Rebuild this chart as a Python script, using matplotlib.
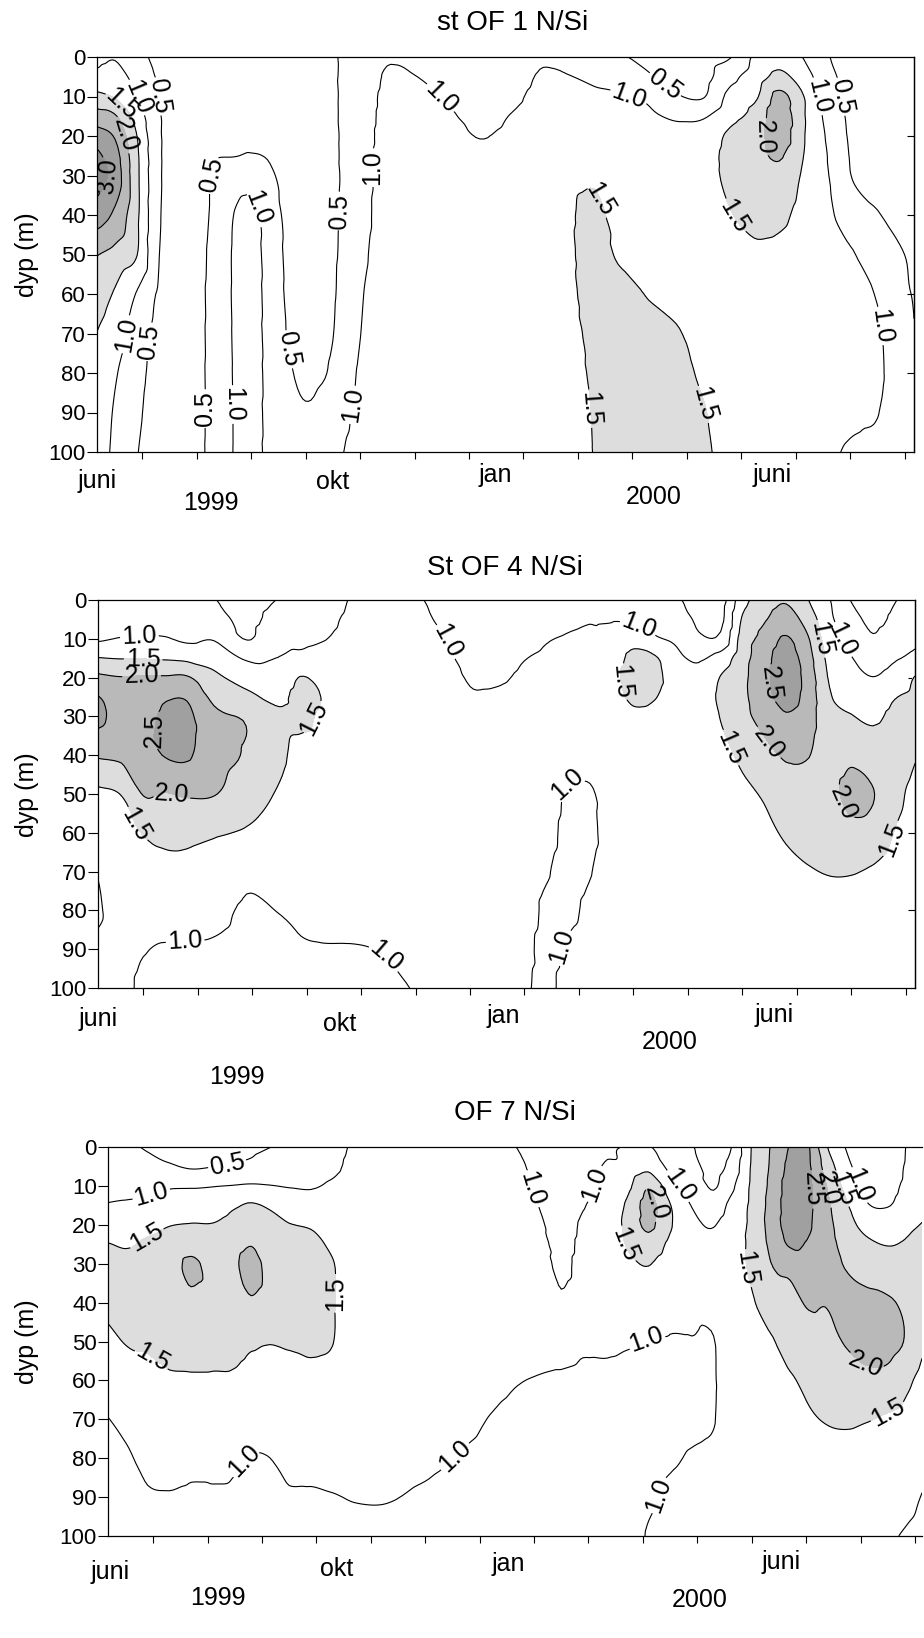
import numpy as np
import matplotlib
matplotlib.use("Agg")
import matplotlib.pyplot as plt
from matplotlib.tri import Triangulation, UniformTriRefiner, CubicTriInterpolator

plt.rcParams["font.family"] = ["Liberation Sans", "DejaVu Sans"]

# sample depths (m), shared by all stations
depths = [0, 5, 10, 15, 20, 25, 30, 40, 50, 60, 70, 80, 90, 100]

# time axis: months after 1 June 1999
# each row of *_nsi is one N/Si depth profile (same order as depths)
of1_months = [0.17, 0.5, 0.9, 1.3, 1.8, 2.3, 2.7, 3.0, 3.3, 3.7, 4.1, 4.5, 5.0, 5.5, 6.0, 6.6, 7.2,
              7.8, 8.3, 8.8, 9.3, 9.8, 10.3, 10.8, 11.3, 11.8, 12.3, 12.7, 13.1, 13.5, 14.0, 14.5, 15.17]
of1_nsi = [
    [0.90, 1.10, 1.65, 2.20, 2.75, 3.10, 3.20, 2.75, 2.02, 1.72, 1.49, 1.38, 1.30, 1.25],
    [0.97, 1.15, 1.45, 2.05, 2.45, 2.70, 2.80, 2.40, 1.85, 1.45, 1.25, 1.05, 0.95, 0.90],
    [0.70, 0.85, 1.03, 1.30, 1.51, 1.60, 1.62, 1.60, 1.52, 0.97, 0.75, 0.65, 0.58, 0.52],
    [0.35, 0.45, 0.52, 0.55, 0.57, 0.58, 0.58, 0.56, 0.52, 0.45, 0.38, 0.35, 0.33, 0.32],
    [0.28, 0.28, 0.28, 0.28, 0.28, 0.28, 0.28, 0.30, 0.30, 0.30, 0.30, 0.30, 0.30, 0.30],
    [0.25, 0.27, 0.30, 0.35, 0.42, 0.47, 0.52, 0.56, 0.60, 0.62, 0.62, 0.62, 0.62, 0.62],
    [0.22, 0.25, 0.30, 0.36, 0.43, 0.49, 0.75, 1.02, 1.06, 1.06, 1.05, 1.04, 1.03, 1.03],
    [0.20, 0.22, 0.28, 0.34, 0.42, 0.52, 0.80, 1.15, 1.20, 1.20, 1.20, 1.20, 1.20, 1.20],
    [0.20, 0.22, 0.27, 0.33, 0.40, 0.48, 0.60, 0.80, 0.85, 0.87, 0.88, 0.90, 0.90, 0.90],
    [0.20, 0.22, 0.25, 0.28, 0.30, 0.33, 0.35, 0.38, 0.40, 0.42, 0.46, 0.54, 0.60, 0.62],
    [0.20, 0.20, 0.22, 0.25, 0.27, 0.30, 0.32, 0.35, 0.37, 0.39, 0.41, 0.43, 0.53, 0.58],
    [0.45, 0.45, 0.44, 0.44, 0.43, 0.43, 0.42, 0.42, 0.44, 0.46, 0.49, 0.56, 0.72, 0.85],
    [0.70, 0.70, 0.75, 0.77, 0.78, 0.79, 0.80, 0.82, 0.88, 0.95, 0.99, 1.06, 1.12, 1.20],
    [0.95, 1.05, 1.10, 1.12, 1.15, 1.17, 1.18, 1.20, 1.22, 1.24, 1.26, 1.28, 1.30, 1.30],
    [0.88, 1.01, 1.08, 1.12, 1.15, 1.18, 1.20, 1.22, 1.25, 1.28, 1.30, 1.30, 1.30, 1.30],
    [0.75, 0.85, 0.97, 1.05, 1.10, 1.13, 1.16, 1.20, 1.23, 1.26, 1.28, 1.30, 1.30, 1.30],
    [0.65, 0.72, 0.80, 0.90, 0.99, 1.05, 1.10, 1.18, 1.22, 1.25, 1.28, 1.30, 1.30, 1.30],
    [0.75, 0.82, 0.92, 1.02, 1.08, 1.12, 1.15, 1.20, 1.25, 1.28, 1.30, 1.30, 1.30, 1.30],
    [0.95, 1.03, 1.10, 1.15, 1.20, 1.25, 1.30, 1.35, 1.38, 1.40, 1.40, 1.38, 1.36, 1.35],
    [0.95, 1.01, 1.10, 1.18, 1.25, 1.32, 1.40, 1.45, 1.45, 1.44, 1.40, 1.37, 1.35, 1.33],
    [0.85, 0.95, 1.05, 1.15, 1.25, 1.35, 1.45, 1.58, 1.60, 1.60, 1.58, 1.55, 1.52, 1.51],
    [0.55, 0.85, 1.02, 1.10, 1.20, 1.25, 1.30, 1.35, 1.45, 1.60, 1.65, 1.65, 1.62, 1.60],
    [0.40, 0.55, 0.92, 1.05, 1.15, 1.20, 1.25, 1.30, 1.38, 1.48, 1.60, 1.65, 1.65, 1.65],
    [0.30, 0.40, 0.55, 0.95, 1.08, 1.15, 1.20, 1.28, 1.33, 1.40, 1.53, 1.60, 1.62, 1.62],
    [0.30, 0.35, 0.47, 0.95, 1.20, 1.30, 1.32, 1.30, 1.30, 1.32, 1.38, 1.45, 1.52, 1.55],
    [0.48, 0.85, 1.15, 1.35, 1.60, 1.65, 1.62, 1.48, 1.38, 1.32, 1.30, 1.32, 1.35, 1.38],
    [1.15, 1.30, 1.48, 1.70, 1.85, 1.88, 1.85, 1.65, 1.42, 1.30, 1.25, 1.25, 1.25, 1.25],
    [1.35, 1.60, 2.15, 2.35, 2.30, 2.05, 1.85, 1.60, 1.38, 1.25, 1.20, 1.20, 1.20, 1.20],
    [1.02, 1.30, 1.58, 1.62, 1.60, 1.55, 1.48, 1.38, 1.30, 1.25, 1.20, 1.15, 1.10, 1.05],
    [0.60, 0.75, 0.88, 0.98, 1.05, 1.10, 1.13, 1.17, 1.20, 1.20, 1.18, 1.15, 1.10, 1.05],
    [0.30, 0.33, 0.38, 0.42, 0.45, 0.48, 0.51, 0.75, 1.05, 1.12, 1.15, 1.12, 1.06, 0.97],
    [0.20, 0.20, 0.22, 0.25, 0.30, 0.35, 0.40, 0.52, 0.75, 0.97, 1.05, 1.06, 1.01, 0.90],
    [0.30, 0.35, 0.30, 0.30, 0.30, 0.33, 0.35, 0.38, 0.42, 0.46, 0.52, 0.60, 0.65, 0.70],
]

of4_months = [0.17, 0.6, 1.0, 1.4, 1.8, 2.3, 2.9, 3.5, 3.9, 4.3, 4.8, 5.4, 6.0, 6.5, 7.0, 7.5, 8.0, 8.4,
              8.8, 9.2, 9.6, 10.0, 10.4, 10.8, 11.2, 11.6, 12.0, 12.4, 12.8, 13.2, 13.6, 14.0, 14.4, 14.8, 15.17]
of4_nsi = [
    [0.80, 0.85, 0.95, 1.52, 2.10, 2.52, 2.60, 2.05, 1.40, 1.20, 1.02, 0.96, 1.08, 1.15],
    [0.75, 0.85, 1.02, 1.48, 2.02, 2.25, 2.35, 2.10, 1.52, 1.30, 1.20, 1.15, 1.12, 1.12],
    [0.75, 0.88, 1.03, 1.48, 2.05, 2.30, 2.40, 2.30, 2.02, 1.52, 1.30, 1.15, 1.02, 0.92],
    [0.72, 0.88, 1.03, 1.45, 2.05, 2.45, 2.55, 2.52, 1.98, 1.60, 1.40, 1.20, 0.97, 0.88],
    [0.70, 0.80, 0.92, 1.40, 2.05, 2.45, 2.60, 2.55, 2.05, 1.60, 1.40, 1.20, 0.96, 0.88],
    [0.52, 0.70, 0.97, 1.30, 1.62, 1.88, 2.10, 2.20, 2.02, 1.55, 1.30, 1.12, 0.95, 0.85],
    [0.30, 0.38, 0.48, 0.95, 1.30, 1.62, 1.95, 1.95, 1.72, 1.45, 1.10, 0.95, 0.90, 0.88],
    [0.52, 0.70, 0.88, 1.02, 1.20, 1.40, 1.58, 1.60, 1.45, 1.30, 1.15, 1.01, 0.93, 0.90],
    [0.60, 0.75, 0.90, 1.10, 1.52, 1.65, 1.60, 1.35, 1.25, 1.20, 1.12, 1.05, 0.98, 0.95],
    [0.70, 0.85, 0.98, 1.15, 1.35, 1.48, 1.42, 1.30, 1.22, 1.18, 1.12, 1.06, 0.99, 0.95],
    [1.02, 1.08, 1.12, 1.15, 1.20, 1.22, 1.22, 1.20, 1.18, 1.15, 1.10, 1.05, 0.99, 0.93],
    [1.10, 1.12, 1.15, 1.18, 1.20, 1.22, 1.22, 1.20, 1.18, 1.15, 1.10, 1.05, 1.01, 0.90],
    [1.05, 1.10, 1.15, 1.18, 1.20, 1.22, 1.22, 1.20, 1.18, 1.15, 1.12, 1.10, 1.08, 1.02],
    [0.85, 0.93, 1.03, 1.10, 1.15, 1.20, 1.22, 1.22, 1.20, 1.18, 1.15, 1.12, 1.10, 1.08],
    [0.65, 0.72, 0.80, 0.88, 0.97, 1.03, 1.08, 1.15, 1.20, 1.20, 1.18, 1.15, 1.12, 1.10],
    [0.65, 0.72, 0.80, 0.88, 0.96, 1.04, 1.08, 1.15, 1.18, 1.18, 1.16, 1.14, 1.12, 1.10],
    [0.70, 0.78, 0.88, 0.99, 1.05, 1.10, 1.12, 1.15, 1.15, 1.14, 1.12, 1.10, 1.06, 1.03],
    [0.80, 0.90, 0.98, 1.05, 1.10, 1.12, 1.14, 1.15, 1.12, 1.08, 1.02, 0.96, 0.94, 0.95],
    [0.85, 0.95, 1.02, 1.08, 1.12, 1.14, 1.15, 1.10, 0.97, 0.94, 0.93, 0.95, 1.03, 1.08],
    [0.88, 0.98, 1.05, 1.10, 1.15, 1.18, 1.20, 1.10, 0.97, 0.95, 0.99, 1.05, 1.10, 1.12],
    [0.90, 0.98, 1.08, 1.20, 1.30, 1.28, 1.22, 1.18, 1.12, 1.10, 1.10, 1.10, 1.10, 1.10],
    [0.85, 0.95, 1.30, 1.65, 1.80, 1.60, 1.40, 1.25, 1.15, 1.12, 1.10, 1.10, 1.10, 1.10],
    [0.75, 0.88, 1.05, 1.55, 1.65, 1.52, 1.35, 1.22, 1.15, 1.12, 1.10, 1.10, 1.10, 1.10],
    [0.55, 0.75, 0.92, 1.10, 1.20, 1.20, 1.18, 1.15, 1.12, 1.10, 1.10, 1.10, 1.10, 1.10],
    [0.35, 0.42, 0.58, 0.95, 1.10, 1.15, 1.18, 1.20, 1.20, 1.18, 1.15, 1.12, 1.10, 1.10],
    [0.30, 0.38, 0.60, 1.20, 1.52, 1.60, 1.52, 1.35, 1.25, 1.20, 1.15, 1.12, 1.10, 1.10],
    [1.30, 1.55, 1.70, 1.80, 1.88, 1.90, 1.88, 1.60, 1.40, 1.30, 1.25, 1.20, 1.15, 1.12],
    [1.75, 1.95, 2.15, 2.30, 2.35, 2.30, 2.15, 1.85, 1.55, 1.40, 1.30, 1.22, 1.18, 1.15],
    [1.95, 2.20, 2.55, 2.75, 2.80, 2.70, 2.45, 2.05, 1.80, 1.55, 1.40, 1.30, 1.22, 1.18],
    [1.52, 1.80, 2.05, 2.20, 2.30, 2.30, 2.22, 2.02, 1.80, 1.65, 1.47, 1.32, 1.25, 1.20],
    [1.02, 1.10, 1.22, 1.35, 1.45, 1.55, 1.65, 1.78, 1.85, 1.70, 1.52, 1.35, 1.28, 1.22],
    [0.48, 0.70, 0.88, 1.02, 1.20, 1.35, 1.52, 1.90, 2.15, 1.85, 1.52, 1.35, 1.28, 1.22],
    [0.30, 0.38, 0.55, 0.80, 1.01, 1.25, 1.42, 1.75, 2.02, 1.80, 1.45, 1.30, 1.22, 1.18],
    [0.48, 0.60, 0.80, 0.95, 1.20, 1.48, 1.60, 1.75, 1.65, 1.48, 1.30, 1.20, 1.15, 1.12],
    [0.70, 0.80, 0.92, 1.10, 1.52, 1.60, 1.62, 1.52, 1.35, 1.25, 1.20, 1.15, 1.12, 1.10],
]

of7_months = [0.17, 0.5, 0.9, 1.3, 1.7, 2.1, 2.5, 2.8, 3.1, 3.5, 3.9, 4.3, 4.7, 5.3, 6.0, 6.6, 7.2, 7.7,
              8.1, 8.5, 8.9, 9.3, 9.7, 10.1, 10.5, 10.9, 11.3, 11.6, 12.0, 12.35, 12.7, 13.05, 13.35,
              13.7, 14.1, 14.5, 14.85, 15.13]
of7_nsi = [
    [0.70, 0.80, 0.90, 1.02, 1.20, 1.52, 1.70, 1.60, 1.40, 1.20, 0.99, 0.90, 0.85, 0.85],
    [0.60, 0.75, 0.88, 1.05, 1.25, 1.45, 1.65, 1.70, 1.52, 1.30, 1.10, 0.95, 0.88, 0.85],
    [0.45, 0.65, 0.90, 1.10, 1.35, 1.58, 1.72, 1.75, 1.55, 1.40, 1.25, 1.10, 0.97, 0.92],
    [0.35, 0.55, 0.95, 1.20, 1.48, 1.70, 1.82, 1.85, 1.65, 1.45, 1.30, 1.15, 0.98, 0.95],
    [0.30, 0.45, 0.95, 1.30, 1.52, 1.80, 2.08, 1.90, 1.70, 1.45, 1.25, 1.10, 0.95, 0.90],
    [0.30, 0.49, 0.98, 1.30, 1.52, 1.75, 1.85, 1.80, 1.65, 1.45, 1.25, 1.12, 0.95, 0.90],
    [0.35, 0.55, 1.02, 1.45, 1.65, 1.85, 1.95, 1.85, 1.60, 1.45, 1.25, 1.05, 0.95, 0.90],
    [0.40, 0.60, 1.05, 1.55, 1.75, 1.98, 2.15, 1.95, 1.55, 1.40, 1.20, 0.98, 0.93, 0.90],
    [0.48, 0.70, 1.02, 1.45, 1.65, 1.82, 1.90, 1.85, 1.52, 1.40, 1.20, 0.99, 0.93, 0.90],
    [0.60, 0.80, 0.98, 1.20, 1.52, 1.68, 1.75, 1.72, 1.55, 1.35, 1.22, 1.10, 0.97, 0.92],
    [0.65, 0.82, 0.97, 1.15, 1.45, 1.62, 1.70, 1.70, 1.58, 1.38, 1.22, 1.10, 0.97, 0.92],
    [0.85, 0.92, 1.05, 1.18, 1.30, 1.42, 1.52, 1.53, 1.51, 1.35, 1.20, 1.10, 0.99, 0.95],
    [1.05, 1.10, 1.15, 1.18, 1.20, 1.22, 1.25, 1.25, 1.22, 1.20, 1.15, 1.08, 1.01, 0.95],
    [1.10, 1.12, 1.15, 1.18, 1.20, 1.22, 1.25, 1.25, 1.22, 1.20, 1.15, 1.08, 1.01, 0.95],
    [1.10, 1.12, 1.15, 1.18, 1.20, 1.22, 1.25, 1.25, 1.22, 1.18, 1.12, 1.05, 0.97, 0.92],
    [1.10, 1.12, 1.15, 1.18, 1.20, 1.22, 1.25, 1.25, 1.20, 1.15, 1.08, 0.99, 0.92, 0.90],
    [1.10, 1.12, 1.15, 1.18, 1.20, 1.22, 1.22, 1.20, 1.15, 1.08, 0.99, 0.93, 0.90, 0.88],
    [0.99, 1.08, 1.12, 1.15, 1.18, 1.20, 1.20, 1.15, 1.08, 1.01, 0.93, 0.90, 0.88, 0.87],
    [0.80, 0.85, 0.92, 0.99, 1.05, 1.10, 1.12, 1.12, 1.06, 0.99, 0.93, 0.90, 0.88, 0.87],
    [0.75, 0.78, 0.80, 0.83, 0.86, 0.90, 0.94, 1.02, 1.05, 0.98, 0.93, 0.90, 0.88, 0.87],
    [0.85, 0.88, 0.92, 0.98, 1.05, 1.08, 1.10, 1.10, 1.02, 0.97, 0.93, 0.90, 0.88, 0.87],
    [0.95, 1.02, 1.10, 1.15, 1.18, 1.20, 1.20, 1.15, 1.03, 0.97, 0.92, 0.90, 0.88, 0.87],
    [1.02, 1.10, 1.35, 1.55, 1.60, 1.52, 1.40, 1.20, 1.02, 0.96, 0.92, 0.90, 0.88, 0.87],
    [1.05, 1.35, 1.95, 2.15, 2.10, 1.80, 1.52, 1.25, 0.99, 0.95, 0.93, 0.93, 0.96, 1.02],
    [0.60, 0.88, 1.20, 1.52, 1.55, 1.40, 1.25, 1.10, 0.98, 0.95, 0.94, 0.97, 1.05, 1.10],
    [0.52, 0.65, 0.85, 0.98, 1.12, 1.15, 1.15, 1.08, 0.99, 0.95, 0.95, 1.02, 1.10, 1.12],
    [0.30, 0.35, 0.45, 0.70, 0.98, 1.08, 1.12, 1.08, 0.99, 0.98, 0.99, 1.05, 1.10, 1.12],
    [0.45, 0.62, 0.85, 1.10, 1.25, 1.30, 1.32, 1.28, 1.20, 1.15, 1.12, 1.10, 1.10, 1.10],
    [1.52, 1.55, 1.58, 1.60, 1.60, 1.60, 1.58, 1.45, 1.35, 1.28, 1.22, 1.18, 1.15, 1.12],
    [2.02, 2.05, 2.10, 2.15, 2.18, 2.10, 1.99, 1.75, 1.45, 1.35, 1.28, 1.22, 1.18, 1.15],
    [2.52, 2.60, 2.70, 2.72, 2.70, 2.55, 2.15, 1.85, 1.70, 1.45, 1.32, 1.25, 1.20, 1.17],
    [2.52, 2.55, 2.58, 2.58, 2.55, 2.45, 2.30, 2.05, 1.80, 1.60, 1.45, 1.30, 1.22, 1.18],
    [1.60, 1.85, 2.05, 2.15, 2.20, 2.25, 2.20, 2.02, 1.85, 1.70, 1.52, 1.35, 1.25, 1.20],
    [1.02, 1.20, 1.42, 1.62, 1.75, 1.85, 1.98, 2.15, 2.02, 1.80, 1.55, 1.38, 1.28, 1.22],
    [0.60, 0.75, 0.88, 1.05, 1.35, 1.60, 1.80, 2.10, 2.20, 1.85, 1.52, 1.35, 1.25, 1.20],
    [0.55, 0.70, 0.85, 0.98, 1.25, 1.48, 1.70, 2.05, 2.15, 1.85, 1.45, 1.30, 1.15, 1.05],
    [1.02, 1.05, 1.10, 1.20, 1.40, 1.55, 1.70, 1.90, 1.95, 1.60, 1.35, 1.20, 1.08, 0.97],
    [1.10, 1.15, 1.25, 1.38, 1.52, 1.65, 1.70, 1.65, 1.58, 1.35, 1.20, 1.08, 0.99, 0.92],
]

# where the contour labels sit (month, depth) for each level
of1_label_spots = {
    0.5: [(1.3, 10), (1.05, 72), (2.35, 30), (3.7, 74), (2.2, 89), (4.65, 39), (10.6, 7), (13.85, 10)],
    1.0: [(0.95, 10), (0.6, 70), (2.95, 39), (2.73, 88), (5.25, 28), (4.85, 88), (6.5, 10),
          (9.95, 9), (13.4, 10), (14.6, 68)],
    1.5: [(0.55, 13), (9.25, 37), (9.25, 89), (11.3, 88), (11.9, 40)],
    2.0: [(0.6, 20), (12.5, 20)],
    3.0: [(0.35, 30)],
}
of4_label_spots = {
    1.0: [(0.93, 8), (6.6, 10.5), (10.08, 7), (13.87, 10), (1.77, 88), (5.38, 93), (8.82, 48), (8.93, 89.5)],
    1.5: [(1.0, 14), (4.1, 30.5), (0.85, 58), (9.87, 20.5), (11.8, 38), (13.45, 10), (14.72, 61.5)],
    2.0: [(0.97, 19.5), (1.52, 50), (12.6, 35.6), (14.0, 51.5)],
    2.5: [(1.42, 34), (12.55, 21.5)],
}
of7_label_spots = {
    0.5: [(2.36, 4.4)],
    1.0: [(0.98, 12.7), (2.63, 80.5), (6.65, 81), (8.0, 10.6), (9.1, 9.4), (10.07, 50), (10.3, 89.5),
          (10.7, 9.5), (13.95, 10)],
    1.5: [(0.9, 24), (4.32, 37.6), (1.05, 53), (9.69, 25), (12.0, 31), (14.5, 68), (13.6, 11)],
    2.0: [(10.1, 15), (14.1, 55.5), (13.3, 11)],
    2.5: [(12.98, 11)],
}

line_levels = [0.5, 1.0, 1.5, 2.0, 2.5, 3.0]
fill_levels = [1.5, 2.0, 2.5, 3.0, 9.0]
fill_colours = ["#dddddd", "#b9b9b9", "#a0a0a0", "#8f8f8f"]
XSCALE = 14.0  # one month is about as wide on the page as 14 m of depth

W, H = 924, 1638
fig = plt.figure(figsize=(W / 100, H / 100), dpi=100)


def at(x, y):
    # pixel position -> figure fraction
    return x / W, 1 - y / H


def smooth_field(months, nsi):
    # triangulate the sample grid and let matplotlib refine it with a cubic interpolator
    z = np.array(nsi).T
    mx, dy = np.meshgrid(np.array(months) * XSCALE, depths)
    nr, nc = z.shape
    tris = []
    for i in range(nr - 1):
        for j in range(nc - 1):
            a = i * nc + j
            tris.append([a, a + 1, a + nc + 1])
            tris.append([a, a + nc + 1, a + nc])
    tri = Triangulation(mx.ravel(), dy.ravel(), tris)
    interp = CubicTriInterpolator(tri, z.ravel(), kind="geom")
    fine, zf = UniformTriRefiner(tri).refine_field(z.ravel(), triinterpolator=interp, subdiv=3)
    fine = Triangulation(fine.x / XSCALE, fine.y, fine.triangles)
    return fine, zf


def panel(left, top, right, bottom, months, nsi, spots, right_axis=True):
    ax = fig.add_axes([left / W, 1 - bottom / H, (right - left) / W, (bottom - top) / H])
    ax.set_xlim(months[0], months[-1])
    ax.set_ylim(100, 0)
    tri, zf = smooth_field(months, nsi)
    ax.tricontourf(tri, zf, levels=fill_levels, colors=fill_colours)
    # one contour set per level, so manual label placement hits the right line
    for lev in line_levels:
        if not (zf.min() < lev < zf.max()):
            continue
        cs = ax.tricontour(tri, zf, levels=[lev], colors="k", linewidths=0.8)
        if lev in spots:
            ax.clabel(cs, manual=spots[lev], inline=True, inline_spacing=2, fmt="%.1f", fontsize=18)

    ax.set_xticks(range(1, 16))
    ax.set_xticklabels([])
    ax.tick_params(axis="x", direction="out", length=5, width=0.8)
    ax.set_yticks(range(0, 101, 10))
    ax.tick_params(axis="y", direction="out", length=7, width=0.8, labelsize=16, pad=1)
    for s in ax.spines.values():
        s.set_linewidth(0.9)
    if right_axis:
        sec = ax.secondary_yaxis("right")
        sec.set_yticks([20, 40, 60, 80])
        sec.tick_params(direction="in", length=5, width=0.8, labelright=False)
        sec.spines["right"].set_linewidth(0.9)
    else:
        ax.spines["right"].set_visible(False)
    return ax


panel(97, 57, 914, 452, of1_months, of1_nsi, of1_label_spots)
panel(98, 600, 915, 988, of4_months, of4_nsi, of4_label_spots)
panel(108, 1147, 922, 1536, of7_months, of7_nsi, of7_label_spots, right_axis=False)

# titles
fig.text(*at(513, 23), "st OF 1 N/Si", ha="center", va="center", fontsize=20)
fig.text(*at(505, 568), "St OF 4 N/Si", ha="center", va="center", fontsize=20)
fig.text(*at(515, 1113), "OF 7 N/Si", ha="center", va="center", fontsize=20)

# y labels
for y in (255, 795, 1342):
    fig.text(*at(27, y), "dyp (m)", ha="center", va="center", rotation=90, fontsize=18)

# month / year annotations under each panel
time_text = [
    ("juni", 97, 481), ("okt", 333, 482), ("jan", 495, 475), ("juni", 772, 475),
    ("1999", 211, 503), ("2000", 654, 497),
    ("juni", 98, 1019), ("okt", 340, 1024), ("jan", 503, 1016), ("juni", 774, 1015),
    ("1999", 237, 1077), ("2000", 670, 1042),
    ("juni", 110, 1572), ("okt", 337, 1569), ("jan", 508, 1564), ("juni", 781, 1562),
    ("1999", 218, 1598), ("2000", 700, 1600),
]
for txt, x, y in time_text:
    fig.text(*at(x, y), txt, ha="center", va="center", fontsize=18)

fig.savefig("out.png", dpi=100)
